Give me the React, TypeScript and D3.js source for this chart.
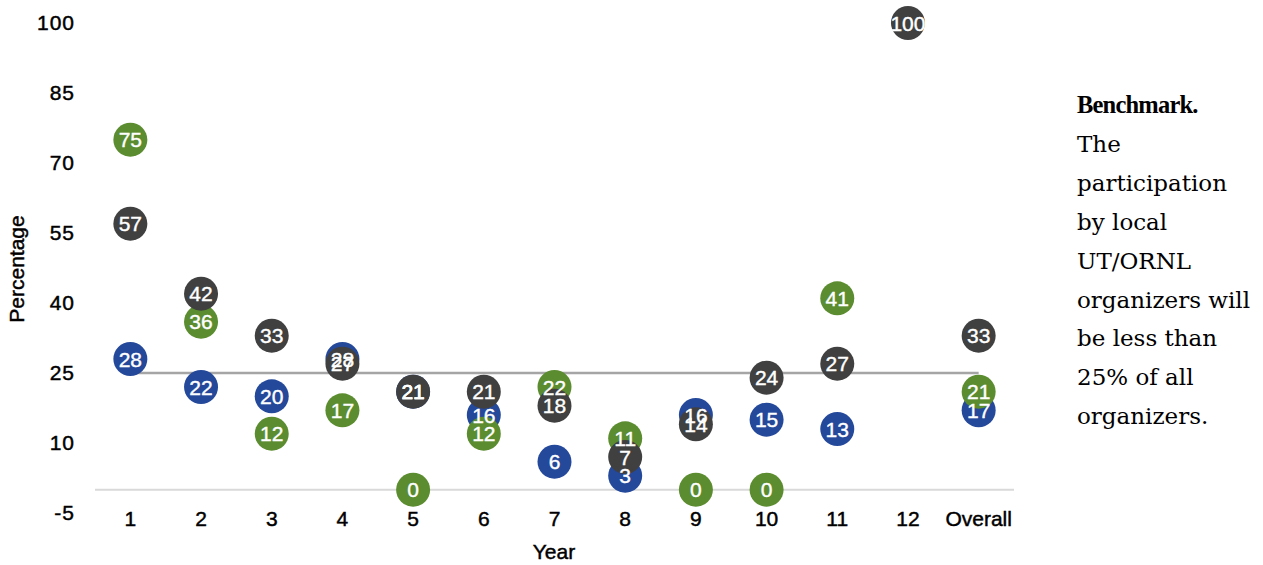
import React from "react";
import * as d3 from "d3";

const categories = ["1", "2", "3", "4", "5", "6", "7", "8", "9", "10", "11", "12", "Overall"];
const yTicks = [-5, 10, 25, 40, 55, 70, 85, 100];
const benchmark = 25;

// Participation shares (%) per year; null where no value was reported
const blueValues: (number | null)[] = [28, 22, 20, 28, 21, 16, 6, 3, 16, 15, 13, null, 17];
const greenValues: (number | null)[] = [75, 36, 12, 17, 0, 12, 22, 11, 0, 0, 41, null, 21];
const grayValues: (number | null)[] = [57, 42, 33, 27, 21, 21, 18, 7, 14, 24, 27, 100, 33];

const noteLines = [
  "The",
  "participation",
  "by local",
  "UT/ORNL",
  "organizers will",
  "be less than",
  "25% of all",
  "organizers.",
];

const WIDTH = 1263;
const HEIGHT = 565;
const R = 17;

export default function App() {
  const x = d3.scaleBand<string>().domain(categories).range([95, 1014]).padding(0);
  const cx = (c: string) => (x(c) as number) + x.bandwidth() / 2;
  const y = d3.scaleLinear().domain([-5, 100]).range([513, 23]);

  const series = [
    { name: "blue", color: "#24489a", values: blueValues },
    { name: "green", color: "#5b8c2f", values: greenValues },
    { name: "gray", color: "#404040", values: grayValues },
  ];

  const pts = series.flatMap((s) =>
    s.values
      .map((v, i) => ({ v, c: categories[i], color: s.color, key: s.name + i }))
      .filter((p) => p.v !== null) as { v: number; c: string; color: string; key: string }[]
  );

  const benchLine = d3
    .line<string>()
    .x((c) => cx(c))
    .y(() => y(benchmark))(categories) as string;

  const font = "'Liberation Sans', Arial, sans-serif";
  const axisText = {
    fontFamily: font,
    fontSize: 21,
    fill: "#000",
    stroke: "#000",
    strokeWidth: 0.45,
  };

  return (
    <svg
      width={WIDTH}
      height={HEIGHT}
      style={{ position: "absolute", left: 0, top: 0, background: "#fff" }}
    >
      {/* zero baseline */}
      <line x1={95} x2={1014} y1={y(0)} y2={y(0)} stroke="#d9d9d9" strokeWidth={2} />
      {/* benchmark line */}
      <path d={benchLine} fill="none" stroke="#a5a5a5" strokeWidth={2.5} />

      {/* y tick labels */}
      {yTicks.map((t) => (
        <text key={t} x={75} y={y(t)} dy="0.35em" textAnchor="end" letterSpacing={1} {...axisText}>
          {t}
        </text>
      ))}
      <text
        transform={`translate(17,${y(55) + 36}) rotate(-90)`}
        textAnchor="middle"
        dy="0.35em"
        {...axisText}
        fontSize={21}
      >
        Percentage
      </text>

      {/* x tick labels */}
      {categories.map((c) => (
        <text key={c} x={cx(c)} y={519} dy="0.35em" textAnchor="middle" {...axisText}>
          {c}
        </text>
      ))}
      <text x={554} y={552} dy="0.35em" textAnchor="middle" {...axisText}>
        Year
      </text>

      {/* markers */}
      {pts.map((p) => (
        <circle key={p.key} cx={cx(p.c)} cy={y(p.v)} r={R} fill={p.color} />
      ))}
      {/* data labels */}
      {pts.map((p) => (
        <text
          key={"l" + p.key}
          x={cx(p.c)}
          y={y(p.v)}
          dy="0.36em"
          textAnchor="middle"
          fontFamily={font}
          fontSize={21}
          fill="#fff"
          stroke="#fff"
          strokeWidth={0.4}
        >
          {p.v}
        </text>
      ))}

      {/* benchmark note */}
      <text
        x={1077}
        y={113}
        fontFamily="'Liberation Serif', serif"
        fontSize={24.5}
        fontWeight="bold"
        letterSpacing={-0.8}
        fill="#000"
      >
        Benchmark.
      </text>
      <text fontFamily="'DejaVu Serif', serif" fontSize={23} fill="#000">
        {noteLines.map((l, i) => (
          <tspan key={i} x={1077} y={113 + (i + 1) * 38.9}>
            {l}
          </tspan>
        ))}
      </text>
    </svg>
  );
}
